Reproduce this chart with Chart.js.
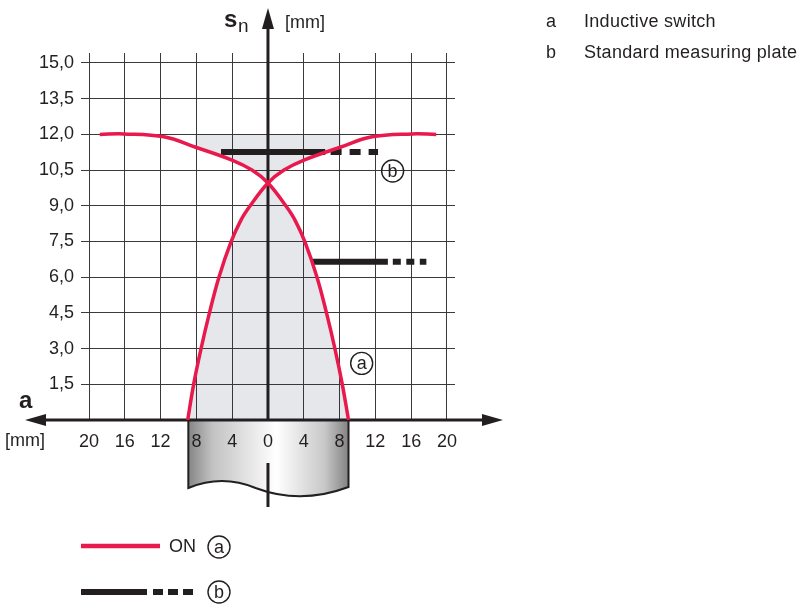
<!DOCTYPE html>
<html>
<head>
<meta charset="utf-8">
<script src="https://cdn.jsdelivr.net/npm/chart.js@4.4.0/dist/chart.umd.min.js"></script>
<style>
  html, body { margin: 0; padding: 0; background: #fff; }
  #wrap { position: relative; width: 800px; height: 606px; }
</style>
</head>
<body>
<div id="wrap"><canvas id="chart" width="800" height="606"></canvas></div>
<script>
// switching curve a, branch rising from the left foot
const riseX = [-8.97, -8.3, -7.49, -6.54, -5.47, -4.13, -3.02, -2.01, 0, 1.79, 4.02, 8.16, 11.5, 16.1, 18.8];
const riseY = [0, 1.51, 2.98, 4.5, 6.01, 7.48, 8.4, 8.99, 9.96, 10.5, 10.92, 11.47, 11.89, 12.02, 12];
// switching curve a, branch falling to the right foot
const fallX = [-18.8, -16.1, -11.5, -8.16, -4.02, -1.79, 0, 2.01, 3.02, 4.13, 5.47, 6.54, 7.49, 8.3, 9];
const fallY = [12, 12.02, 11.89, 11.47, 10.92, 10.5, 9.96, 8.99, 8.4, 7.48, 6.01, 4.5, 2.98, 1.51, 0];

// shaded zone: under both branches, and between branches and this top for |a| <= shadeEdge
const shadeTop = 12;
const shadeEdge = 8.16;

// measuring plate b, two positions: height, solid part, dashed part
const barY = [11.26, 6.65];
const barSolid = [[-5.25, 6.4], [4.9, 13.4]];
const barDash = [[7.0, 12.3], [13.95, 17.7]];

// plate drawn under the a axis
const plateEdge = [-8.9, 9.0];

// tick labels
const xTicks = [-20, -16, -12, -8, -4, 0, 4, 8, 12, 16, 20];
const yTicks = [1.5, 3, 4.5, 6, 7.5, 9, 10.5, 12, 13.5, 15];

// circled letters in the plot: [letter, a, sn]
const marks = [["a", 10.47, 2.38], ["b", 13.93, 10.46]];

const RED = "#e8194d";
const INK = "#231f20";
const SHADE = "rgba(30, 40, 60, 0.11)";
const FONT = "'Liberation Sans', Arial, Helvetica, sans-serif";

function pts(xs, ys, lo, hi) {
  let out = [];
  for (let i = 0; i < xs.length; i++) {
    if (xs[i] >= lo && xs[i] <= hi) out.push({ x: xs[i], y: ys[i] });
  }
  return out;
}

function shadeSet(data, fill) {
  return {
    data: data,
    fill: fill,
    backgroundColor: SHADE,
    borderColor: "rgba(0,0,0,0)",
    borderWidth: 0,
    pointRadius: 0,
    tension: 0.4,
  };
}

function lineSet(data, color, width, dash, tension) {
  return {
    data: data,
    fill: false,
    borderColor: color,
    borderWidth: width,
    borderDash: dash || [],
    borderCapStyle: "butt",
    pointRadius: 0,
    tension: tension || 0,
  };
}

let datasets = [
  shadeSet(pts(riseX, riseY, -99, 0), "origin"),
  shadeSet(pts(fallX, fallY, 0, 99), "origin"),
  shadeSet(pts(fallX, fallY, -shadeEdge, 0), { value: shadeTop }),
  shadeSet(pts(riseX, riseY, 0, shadeEdge), { value: shadeTop }),
];
for (let i = 0; i < barY.length; i++) {
  datasets.push(lineSet([{ x: barSolid[i][0], y: barY[i] }, { x: barSolid[i][1], y: barY[i] }], INK, 6));
  datasets.push(lineSet([{ x: barDash[i][0], y: barY[i] }, { x: barDash[i][1], y: barY[i] }], INK, 6, i === 0 ? [11, 8] : [8, 5.5]));
}
datasets.push(lineSet(pts(riseX, riseY, -99, 99), RED, 3.5, null, 0.4));
datasets.push(lineSet(pts(fallX, fallY, -99, 99), RED, 3.5, null, 0.4));
// draw in array order (later on top)
datasets.forEach((d, i) => { d.order = datasets.length - i; });

function circled(ctx, letter, x, y) {
  ctx.beginPath();
  ctx.arc(x, y, 11, 0, Math.PI * 2);
  ctx.lineWidth = 1.4;
  ctx.strokeStyle = INK;
  ctx.stroke();
  ctx.fillStyle = INK;
  ctx.font = "18px " + FONT;
  ctx.textAlign = "center";
  ctx.textBaseline = "middle";
  ctx.fillText(letter, x, y + 1);
}

function arrow(ctx, tipX, tipY, dx, dy) {
  // dx,dy: unit direction of the arrow
  const len = 21, half = 6;
  ctx.beginPath();
  ctx.moveTo(tipX, tipY);
  ctx.lineTo(tipX - dx * len - dy * half, tipY - dy * len + dx * half);
  ctx.lineTo(tipX - dx * len + dy * half, tipY - dy * len - dx * half);
  ctx.closePath();
  ctx.fill();
}

const decor = {
  id: "decor",
  beforeDraw(chart) {
    const ctx = chart.ctx;
    const xs = chart.scales.x;
    const y0 = chart.scales.y.getPixelForValue(0);
    ctx.save();
    ctx.fillStyle = "#fff";
    ctx.fillRect(0, 0, chart.width, chart.height);
    // measuring plate under the axis
    const l = xs.getPixelForValue(plateEdge[0]);
    const r = xs.getPixelForValue(plateEdge[1]);
    const w = r - l;
    let g = ctx.createLinearGradient(l, 0, r, 0);
    g.addColorStop(0, "#858585");
    g.addColorStop(0.15, "#c2c2c2");
    g.addColorStop(0.55, "#ffffff");
    g.addColorStop(0.85, "#c8c8c8");
    g.addColorStop(1, "#828282");
    ctx.beginPath();
    ctx.moveTo(l, y0);
    ctx.lineTo(l, y0 + 68);
    ctx.quadraticCurveTo(l + w * 0.21, y0 + 54, l + w * 0.42, y0 + 68);
    ctx.quadraticCurveTo(l + w * 0.7, y0 + 85, r, y0 + 67);
    ctx.lineTo(r, y0);
    ctx.closePath();
    ctx.fillStyle = g;
    ctx.fill();
    ctx.lineWidth = 2;
    ctx.strokeStyle = INK;
    ctx.stroke();
    ctx.restore();
  },
  beforeDatasetsDraw(chart) {
    const ctx = chart.ctx;
    const x0 = chart.scales.x.getPixelForValue(0);
    const y0 = chart.scales.y.getPixelForValue(0);
    ctx.save();
    ctx.strokeStyle = INK;
    ctx.fillStyle = INK;
    ctx.lineWidth = 3;
    // a axis, arrows both ways
    ctx.beginPath();
    ctx.moveTo(35, y0);
    ctx.lineTo(492, y0);
    ctx.stroke();
    arrow(ctx, 25, y0, -1, 0);
    arrow(ctx, 503, y0, 1, 0);
    // sn axis
    ctx.beginPath();
    ctx.moveTo(x0, y0);
    ctx.lineTo(x0, 20);
    ctx.stroke();
    arrow(ctx, x0, 8, 0, -1);
    // centre mark through the plate
    ctx.beginPath();
    ctx.moveTo(x0, y0 + 43);
    ctx.lineTo(x0, y0 + 87);
    ctx.stroke();
    ctx.restore();
  },
  afterDatasetsDraw(chart) {
    const ctx = chart.ctx;
    const xs = chart.scales.x;
    const ys = chart.scales.y;
    ctx.save();
    marks.forEach(m => circled(ctx, m[0], xs.getPixelForValue(m[1]), ys.getPixelForValue(m[2])));

    ctx.fillStyle = INK;
    ctx.textAlign = "left";
    ctx.textBaseline = "alphabetic";
    // axis names
    ctx.font = "bold 24px " + FONT;
    ctx.fillText("s", 224, 27);
    ctx.font = "19px " + FONT;
    ctx.fillText("n", 238, 32);
    ctx.font = "18px " + FONT;
    ctx.fillText("[mm]", 285, 28);
    ctx.font = "bold 24px " + FONT;
    ctx.fillText("a", 19, 408);
    ctx.font = "18px " + FONT;
    ctx.fillText("[mm]", 5, 446);

    // key, top right
    ctx.letterSpacing = "0.3px";
    ctx.fillText("a", 546, 27);
    ctx.fillText("Inductive switch", 584, 27);
    ctx.fillText("b", 546, 58);
    ctx.fillText("Standard measuring plate", 584, 58);
    ctx.letterSpacing = "0px";

    // key, bottom
    ctx.strokeStyle = RED;
    ctx.lineWidth = 4.5;
    ctx.beginPath();
    ctx.moveTo(81, 546);
    ctx.lineTo(160, 546);
    ctx.stroke();
    ctx.textBaseline = "middle";
    ctx.fillText("ON", 169, 547);
    circled(ctx, "a", 219, 547);

    ctx.strokeStyle = INK;
    ctx.lineWidth = 6;
    ctx.beginPath();
    ctx.moveTo(81, 592);
    ctx.lineTo(147, 592);
    [153, 168, 183].forEach(d => { ctx.moveTo(d, 592); ctx.lineTo(d + 10, 592); });
    ctx.stroke();
    circled(ctx, "b", 219, 592);
    ctx.restore();
  },
};

new Chart(document.getElementById("chart"), {
  type: "line",
  data: { datasets: datasets },
  plugins: [decor],
  options: {
    responsive: false,
    animation: false,
    devicePixelRatio: 1,
    layout: { padding: { left: 0, right: 345, top: 53, bottom: 0 } },
    plugins: { legend: { display: false }, tooltip: { enabled: false } },
    scales: {
      x: {
        type: "linear",
        min: -20,
        max: 20.9,
        afterBuildTicks: s => { s.ticks = xTicks.map(v => ({ value: v })); },
        afterFit: s => { s.height = 186; },
        grid: { color: "#3a3a3a", lineWidth: 1, drawTicks: false },
        border: { display: false },
        ticks: {
          autoSkip: false,
          maxRotation: 0,
          padding: 11,
          color: INK,
          font: { family: FONT, size: 18 },
          callback: v => String(Math.abs(v)),
        },
      },
      y: {
        type: "linear",
        min: 0,
        max: 15.42,
        afterBuildTicks: s => { s.ticks = yTicks.map(v => ({ value: v })); },
        afterFit: s => { s.width = 89; },
        grid: { color: "#3a3a3a", lineWidth: 1, tickLength: 8 },
        border: { display: false },
        ticks: {
          autoSkip: false,
          padding: 7,
          color: INK,
          font: { family: FONT, size: 18 },
          callback: v => v.toFixed(1).replace(".", ","),
        },
      },
    },
  },
});
</script>
</body>
</html>
